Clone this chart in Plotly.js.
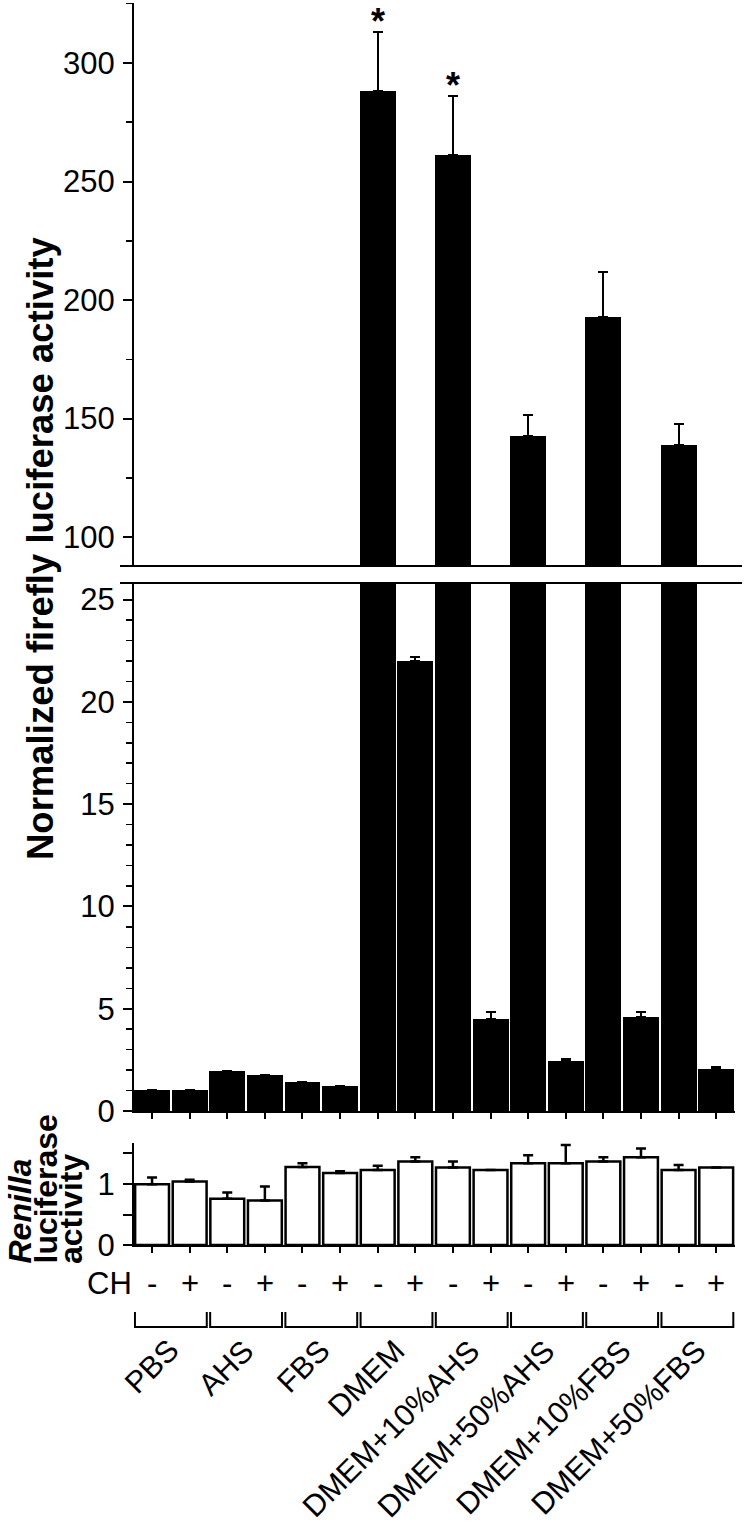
<!DOCTYPE html>
<html>
<head>
<meta charset="utf-8">
<script src="https://cdn.plot.ly/plotly-3.0.1.min.js"></script>
<style>html,body{margin:0;padding:0;background:#fff;}#chart{width:746px;height:1533px;}</style>
</head>
<body>
<div id="chart"></div>
<script>
// ---------- data ----------
const groups = ['PBS', 'AHS', 'FBS', 'DMEM', 'DMEM+10%AHS', 'DMEM+50%AHS', 'DMEM+10%FBS', 'DMEM+50%FBS'];
const chStates = ['-', '+'];
const fireflyMean = [1.02, 1.02, 1.95, 1.74, 1.43, 1.24, 288, 22.0, 261, 4.48, 142.6, 2.44, 193, 4.59, 139, 2.04];
const fireflyErr  = [0, 0, 0, 0, 0, 0, 25, 0.2, 25, 0.37, 9, 0.1, 19, 0.27, 8.5, 0.1];
const renillaMean = [0.995, 1.04, 0.76, 0.73, 1.28, 1.18, 1.23, 1.37, 1.27, 1.23, 1.34, 1.34, 1.37, 1.44, 1.23, 1.27];
const renillaErr  = [0.11, 0.03, 0.1, 0.23, 0.06, 0.03, 0.07, 0.07, 0.1, 0, 0.13, 0.3, 0.07, 0.14, 0.08, 0];
const significant = [false, false, false, false, false, false, true, false, true, false, false, false, false, false, false, false];

// ---------- layout helpers ----------
const W = 746, H = 1533, L = 134, R = 11;
const PW = W - L - R;
const py = p => 1 - p / H;          // pixel row -> paper y
const px = p => (p - L) / PW;       // pixel col -> paper x
const FONT = 'Liberation Sans, Arial, Helvetica, sans-serif';

const idx = fireflyMean.map((_, i) => i);
const zeros = idx.map(() => 0);
const chLabels = idx.map(i => chStates[i % 2]);

const errStyle = {type: 'data', symmetric: false, color: '#000', thickness: 2, width: 5};

const traces = [
  {type: 'bar', x: idx, y: fireflyMean, xaxis: 'x', yaxis: 'y2', width: 0.955,
   marker: {color: '#000', line: {width: 0}},
   error_y: Object.assign({array: fireflyErr, arrayminus: zeros}, errStyle),
   hoverinfo: 'skip', showlegend: false},
  {type: 'bar', x: idx, y: fireflyMean, xaxis: 'x', yaxis: 'y', width: 0.955,
   marker: {color: '#000', line: {width: 0}},
   error_y: Object.assign({array: fireflyErr, arrayminus: zeros}, errStyle),
   hoverinfo: 'skip', showlegend: false},
  {type: 'bar', x: idx, y: renillaMean, xaxis: 'x2', yaxis: 'y3', width: 0.9,
   marker: {color: '#fff', line: {width: 2.5, color: '#000'}},
   error_y: Object.assign({array: renillaErr, arrayminus: zeros}, errStyle, {thickness: 2.5}),
   hoverinfo: 'skip', showlegend: false}
];

const xRange = [-0.48, 15.5];
const tickFont = {family: FONT, size: 31, color: '#000'};
const baseY = {showline: true, linewidth: 2, linecolor: '#000', ticks: 'outside', ticklen: 9, tickwidth: 2,
  tickcolor: '#000', showgrid: false, zeroline: false, tickfont: tickFont, ticklabelstandoff: 2, fixedrange: true};
const baseX = {range: xRange, showline: true, linewidth: 2, linecolor: '#000', ticks: 'outside', ticklen: 6,
  tickwidth: 2, tickcolor: '#000', tickvals: idx, showticklabels: false, showgrid: false, zeroline: false, fixedrange: true};

const layout = {
  width: W, height: H,
  margin: {l: L, r: R, t: 0, b: 0, pad: 0},
  paper_bgcolor: '#fff', plot_bgcolor: 'rgba(0,0,0,0)',
  font: {family: FONT, color: '#000'},
  bargap: 0, showlegend: false,
  xaxis: Object.assign({}, baseX, {anchor: 'y', domain: [0, 1]}),
  xaxis2: Object.assign({}, baseX, {anchor: 'y3', domain: [0, 1]}),
  yaxis: Object.assign({}, baseY, {anchor: 'x', domain: [py(1111), py(583)], range: [0, 25.81],
    tickvals: [0, 5, 10, 15, 20, 25],
    minor: {dtick: 1, tick0: 0, ticks: 'outside', ticklen: 6, tickwidth: 1.5, tickcolor: '#000', showgrid: false}}),
  yaxis2: Object.assign({}, baseY, {anchor: 'x', domain: [py(566), py(3)], range: [87.8, 325.3],
    tickvals: [100, 150, 200, 250, 300],
    minor: {dtick: 25, tick0: 0, ticks: 'outside', ticklen: 6, tickwidth: 1.5, tickcolor: '#000', showgrid: false}}),
  yaxis3: Object.assign({}, baseY, {anchor: 'x2', domain: [py(1245), py(1143)], range: [0, 1.672],
    tickvals: [0, 0.5, 1, 1.5], ticktext: ['0', '', '1', '']}),
  shapes: [],
  annotations: []
};

// axis-break lines
[py(566), py(583)].forEach(yy => layout.shapes.push({type: 'line', xref: 'paper', yref: 'paper',
  x0: px(120), x1: px(742), y0: yy, y1: yy, line: {color: '#000', width: 2}}));

// group brackets
groups.forEach((g, k) => {
  const a = 2 * k - 0.5 + 0.045, b = 2 * k + 1.5 - 0.045;
  const yt = py(1312), yb = py(1327);
  layout.shapes.push({type: 'path', xref: 'x', yref: 'paper',
    path: `M ${a},${yt} L ${a},${yb} L ${b},${yb} L ${b},${yt}`, line: {color: '#000', width: 2}});
  layout.annotations.push({xref: 'x', yref: 'paper', x: 2 * k + 0.5 + 0.45, y: py(1330),
    text: g, textangle: -45, xanchor: 'right', yanchor: 'top', showarrow: false,
    font: {family: FONT, size: 30.5, color: '#000'}});
});

// CH row
layout.annotations.push({xref: 'paper', yref: 'paper', x: px(134), y: py(1283), text: 'CH',
  xanchor: 'right', yanchor: 'middle', showarrow: false, font: {family: FONT, size: 31, color: '#000'}});
idx.forEach(i => layout.annotations.push({xref: 'x', yref: 'paper', x: i, y: py(1283), text: chLabels[i],
  xanchor: 'center', yanchor: 'middle', showarrow: false, font: {family: FONT, size: 31, color: '#000'}}));

// significance stars
idx.forEach(i => { if (significant[i]) layout.annotations.push({xref: 'x', yref: 'y2', x: i,
  y: fireflyMean[i] + fireflyErr[i], text: '*', xanchor: 'center', yanchor: 'bottom', yshift: -12, showarrow: false,
  font: {family: FONT, size: 36, color: '#000', weight: 'bold'}}); });

// y-axis titles
layout.annotations.push({xref: 'paper', yref: 'paper', x: px(40), y: py(549), text: '<b>Normalized firefly luciferase activity</b>',
  textangle: -90, xanchor: 'center', yanchor: 'middle', showarrow: false, font: {family: FONT, size: 36.5, color: '#000'}});
[['<b><i>Renilla</i></b>', 19], ['<b>luciferase</b>', 45], ['<b>activity</b>', 71]].forEach(([t, xc]) =>
  layout.annotations.push({xref: 'paper', yref: 'paper', x: px(xc), y: py(1266), text: t, textangle: -90,
    xanchor: 'center', yanchor: 'bottom', showarrow: false, font: {family: FONT, size: 32, color: '#000'}}));

Plotly.newPlot('chart', traces, layout, {staticPlot: true, displayModeBar: false});
</script>
</body>
</html>
